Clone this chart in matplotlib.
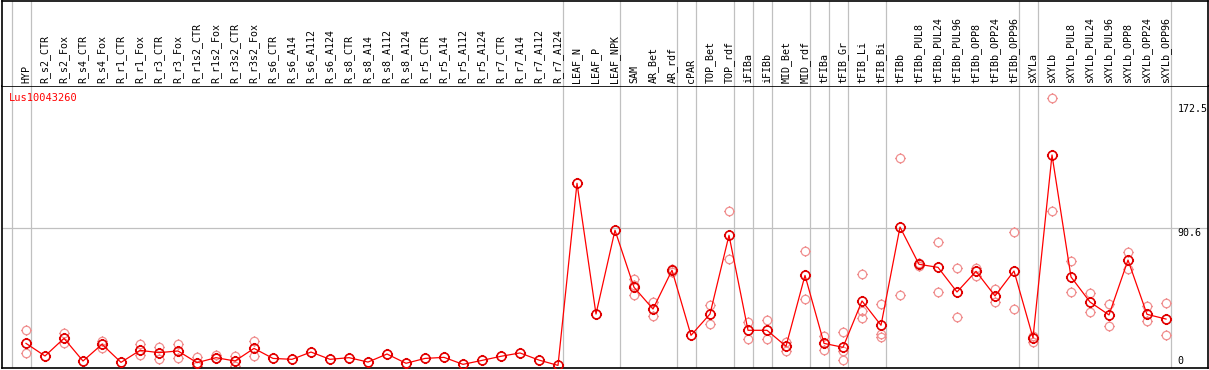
import numpy as np
import matplotlib.pyplot as plt
from matplotlib.path import Path

labels = ["HYP",
          "R_s2_CTR", "R_s2_Fox", "R_s4_CTR", "R_s4_Fox", "R_r1_CTR", "R_r1_Fox",
          "R_r3_CTR", "R_r3_Fox", "R_r1s2_CTR", "R_r1s2_Fox", "R_r3s2_CTR", "R_r3s2_Fox",
          "R_s6_CTR", "R_s6_A14", "R_s6_A112", "R_s6_A124",
          "R_s8_CTR", "R_s8_A14", "R_s8_A112", "R_s8_A124",
          "R_r5_CTR", "R_r5_A14", "R_r5_A112", "R_r5_A124",
          "R_r7_CTR", "R_r7_A14", "R_r7_A112", "R_r7_A124",
          "LEAF_N", "LEAF_P", "LEAF_NPK", "SAM", "AR_Bet", "AR_rdf", "cPAR",
          "TOP_Bet", "TOP_rdf", "iFIBa", "iFIBb", "MID_Bet", "MID_rdf",
          "tFIBa", "tFIB_Gr", "tFIB_Li", "tFIB_Bi", "tFIBb",
          "tFIBb_PUL8", "tFIBb_PUL24", "tFIBb_PUL96", "tFIBb_OPP8", "tFIBb_OPP24", "tFIBb_OPP96",
          "sXYLa", "sXYLb",
          "sXYLb_PUL8", "sXYLb_PUL24", "sXYLb_PUL96", "sXYLb_OPP8", "sXYLb_OPP24", "sXYLb_OPP96"]

# group sizes -> grey separators
groups = [1, 28, 3, 3, 1, 2, 1, 1, 2, 1, 1, 2, 7, 1, 7]

means = [14.9,
         6.6, 18.2, 3.3, 14.3, 2.4, 10.3, 8.8, 9.9, 2.2, 5.5, 3.3, 11.6,
         5.0, 4.4, 9.2, 4.4, 5.5, 2.6, 7.9, 1.8, 5.0, 5.7, 1.1, 3.7, 6.4, 8.6, 3.9, 0.4,
         120.2, 34.2, 89.3, 51.8, 37.5, 63.0, 20.2, 34.2, 86.0, 23.5, 23.5, 13.0, 59.6,
         14.9, 12.3, 42.8, 26.8, 91.4, 66.9, 64.9, 48.7, 62.3, 46.1, 62.5,
         18.6, 138.8, 58.6, 42.1, 33.6, 69.7, 34.0, 30.9]

reps = [[23.5, 8.4],
        [], [21.9, 14.9], [], [16.4, 11.6], [], [14.5, 7.0], [12.7, 4.6], [14.5, 5.0],
        [5.7, 0.0], [7.5, 5.0], [6.6, 0.0], [16.4, 6.4],
        [], [], [], [], [], [], [], [], [], [], [], [], [], [], [], [],
        [], [], [], [57.0, 46.7, 53.0], [41.9, 32.7], [64.0, 62.0], [], [40.1, 27.6],
        [101.8, 70.2], [28.7, 17.6], [30.1, 17.6], [16.0, 9.9], [75.4, 43.9],
        [19.7, 10.5], [22.2, 3.9, 10.1], [60.3, 36.2, 31.6], [40.8, 21.1, 18.9],
        [136.6, 46.5], [68.0, 66.0], [81.4, 48.7], [64.3, 32.0], [64.7, 59.2],
        [50.4, 41.9], [88.0, 37.5],
        [19.5, 15.8], [176.1, 102.0], [68.9, 48.7], [48.0, 35.7], [40.8, 26.1],
        [74.8, 64.0], [39.5, 29.4], [41.2, 20.2]]

gene = "Lus10043260"
yticks = [172.5, 90.6, 0]

x = np.arange(len(labels))
rx = [i for i, r in enumerate(reps) for v in r]
ry = [v for r in reps for v in r]

# open circle with four small ticks
circ = Path.unit_circle()
t = 1.25
ticks = Path([[0, 1], [0, t], [0, -1], [0, -t], [1, 0], [t, 0], [-1, 0], [-t, 0]],
             [Path.MOVETO, Path.LINETO] * 4)
mk = Path.make_compound_path(circ, ticks)

W, H = 1209, 370
fig = plt.figure(figsize=(W / 100, H / 100), dpi=100)
mono = "DejaVu Sans Mono"

xl = ((2 - 26) / 19, (1208 - 26) / 19)
ax = fig.add_axes([2 / W, 2 / H, 1206 / W, (368 - 85.5) / H])
ax.set_xlim(*xl)
ax.set_ylim(-1.3, 184.5)
hd = fig.add_axes([2 / W, (370 - 85.5) / H, 1206 / W, 85 / H])
hd.set_xlim(*xl)
hd.set_ylim(0, 1)

bounds = np.cumsum(groups) - 0.75
bounds = np.concatenate([[-0.75], bounds])
for b in bounds:
    ax.axvline(b, color="#c0c0c0", lw=0.9, zorder=0)
    hd.axvline(b, color="#c0c0c0", lw=0.9, zorder=0)
ax.axhline(90.6, color="#c0c0c0", lw=0.9, zorder=0)

ax.plot(rx, ry, linestyle="none", marker=mk, markersize=7.6, markerfacecolor="none",
        markeredgecolor="#f09090", markeredgewidth=0.9, zorder=2)
ax.plot(x, means, color="red", lw=0.9, marker=mk, markersize=8.0, markerfacecolor="none",
        markeredgecolor="#e00000", markeredgewidth=1.2, zorder=3)

for i, lab in enumerate(labels):
    hd.text(i, 0.03, lab, rotation=90, ha="center", va="bottom", fontsize=7.2, family=mono)

for v in yticks:
    ax.text(60.6, v, str(v), ha="left", va="bottom" if v == 0 else "top",
            fontsize=7.2, family=mono)

ax.text(0.006, 0.975, gene, transform=ax.transAxes, color="red", ha="left", va="top",
        fontsize=7.5, family=mono)

for a in (ax, hd):
    a.set_xticks([])
    a.set_yticks([])
    for s in a.spines.values():
        s.set_linewidth(1.2)
        s.set_color("black")
hd.spines["bottom"].set_visible(False)

fig.savefig("out.png", dpi=100)
